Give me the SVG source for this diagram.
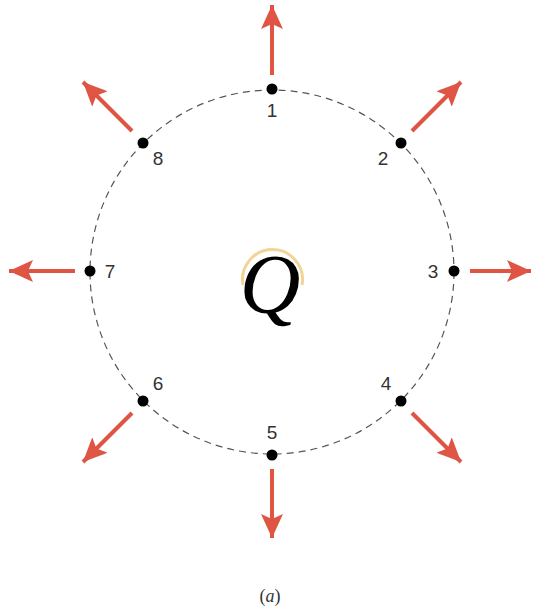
<svg xmlns="http://www.w3.org/2000/svg" width="533" height="609" viewBox="0 0 533 609">
<style>
.lbl{font-family:"Liberation Sans",Arial,sans-serif;font-size:19px;fill:#333}
.arrow{stroke:#e05444;stroke-width:4;fill:none}
.dot{fill:#000}
</style>
<defs>
<marker id="ah" markerUnits="userSpaceOnUse" markerWidth="26" markerHeight="22" refX="24" refY="11" orient="auto">
<path d="M0,0 L24,11 L0,22 L5,11 Z" fill="#e05444"/>
</marker>
</defs>
<rect width="533" height="609" fill="#fff"/>
<g id="ring">
<circle cx="272" cy="272" r="182" fill="none" stroke="#555" stroke-width="1.2" stroke-dasharray="7 5"/>
</g>
<g id="charge">
<path d="M243,285 A30,30 0 1 1 302,285" fill="none" stroke="#e8b850" stroke-width="3" opacity="0.6"/>
<text x="270" y="313" text-anchor="middle" font-family="Liberation Serif,'Times New Roman',serif" font-style="italic" font-size="84" fill="#000">Q</text>
</g>
<g id="connectors">
<line class="arrow" marker-end="url(#ah)" x1="272" y1="75" x2="272" y2="5"/>
<line class="arrow" marker-end="url(#ah)" x1="412" y1="131" x2="461" y2="82"/>
<line class="arrow" marker-end="url(#ah)" x1="470" y1="271" x2="531" y2="271"/>
<line class="arrow" marker-end="url(#ah)" x1="412" y1="413" x2="461" y2="462"/>
<line class="arrow" marker-end="url(#ah)" x1="272" y1="469" x2="272" y2="538"/>
<line class="arrow" marker-end="url(#ah)" x1="132" y1="413" x2="83" y2="462"/>
<line class="arrow" marker-end="url(#ah)" x1="75" y1="271" x2="9" y2="271"/>
<line class="arrow" marker-end="url(#ah)" x1="132" y1="131" x2="83" y2="82"/>
</g>
<g id="p1"><circle class="dot" cx="272" cy="89" r="5.5"/><text class="lbl" x="272" y="117" text-anchor="middle">1</text></g>
<g id="p2"><circle class="dot" cx="401" cy="143" r="5.5"/><text class="lbl" x="383" y="165" text-anchor="middle">2</text></g>
<g id="p3"><circle class="dot" cx="454" cy="271" r="5.5"/><text class="lbl" x="433" y="278" text-anchor="middle">3</text></g>
<g id="p4"><circle class="dot" cx="401" cy="401" r="5.5"/><text class="lbl" x="386" y="390" text-anchor="middle">4</text></g>
<g id="p5"><circle class="dot" cx="272" cy="455" r="5.5"/><text class="lbl" x="272" y="439" text-anchor="middle">5</text></g>
<g id="p6"><circle class="dot" cx="143" cy="401" r="5.5"/><text class="lbl" x="158" y="390" text-anchor="middle">6</text></g>
<g id="p7"><circle class="dot" cx="90" cy="271" r="5.5"/><text class="lbl" x="110" y="278" text-anchor="middle">7</text></g>
<g id="p8"><circle class="dot" cx="143" cy="143" r="5.5"/><text class="lbl" x="158" y="165" text-anchor="middle">8</text></g>
<text x="270" y="602" text-anchor="middle" font-family="Liberation Serif,'Times New Roman',serif" font-size="18" fill="#333">(<tspan font-style="italic">a</tspan>)</text>
</svg>
